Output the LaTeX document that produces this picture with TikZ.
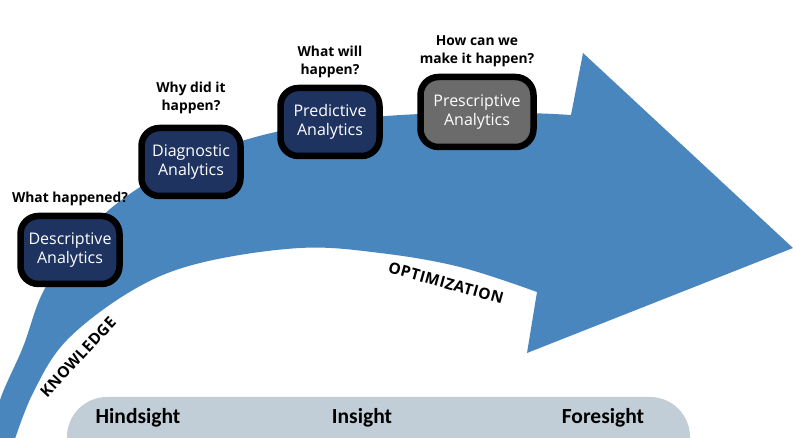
\documentclass[tikz,border=0pt]{standalone}
\usepackage{fontspec}
\setmainfont{Open Sans}
\newfontfamily\phasefont{Carlito}
\usetikzlibrary{positioning}
\definecolor{arrowblue}{HTML}{4A86BE}
\definecolor{navybox}{HTML}{1F3361}
\definecolor{graybox}{HTML}{6B6B6B}
\definecolor{barblue}{HTML}{C1CED7}

\begin{document}
\begin{tikzpicture}
		[x=1pt,y=-1pt,
		stage/.style={draw=black,line width=6.5pt,rounded corners=18pt,fill=navybox,text=white,align=center,minimum width=99pt,minimum height=68pt,inner sep=2pt,font=\fontsize{16}{18.5}\selectfont},
		question/.style={align=center,inner sep=0pt,font=\bfseries\fontsize{13.8}{18}\selectfont},
		phase/.style={font=\phasefont\bfseries\fontsize{21.5}{24}\selectfont},
		axislabel/.style={font=\bfseries\fontsize{15.5}{17}\selectfont\addfontfeature{LetterSpace=3}}]

			\useasboundingbox (0,0) rectangle (793,438);

			\fill[arrowblue] plot[smooth,tension=0.6] coordinates {(-10,445) (0,400) (23,347) (43,292) (75,245) (115,205) (170,170) (245,140) (330,122) (420,114) (520,113) (571,115)}
				-- (583,53) -- (793,248) -- (527,353)
				-- plot[smooth,tension=0.6] coordinates {(537,292) (460,267) (380,253) (300,248) (200,263) (133,290) (67,340) (33,393) (13,445)} -- cycle;

			\fill[barblue,rounded corners=40pt] (67,397) rectangle (690,480);
			\node[phase](hind) at (138,418) {Hindsight};
			\node[phase](ins) at (362,418) {Insight};
			\node[phase](fore) at (603,418) {Foresight};

			\node[stage](desc) at (70,250) {Descriptive\\Analytics};
			\node[stage](diag) at (191,162) {Diagnostic\\Analytics};
			\node[stage](pred) at (330,122) {Predictive\\Analytics};
			\node[stage,fill=graybox,minimum width=113pt,minimum height=70pt](presc) at (477,112) {Prescriptive\\Analytics};

			\node[question, above=7pt of desc](qdesc) {What happened?};
			\node[question, above=11pt of diag](qdiag) {Why did it\\happen?};
			\node[question, above=7pt of pred](qpred) {What will\\happen?};
			\node[question, above=7pt of presc](qpresc) {How can we\\make it happen?};

			\node[axislabel, rotate=47](know) at (78,357) {KNOWLEDGE};
			\node[axislabel, rotate=-15.6](optim) at (446,283) {OPTIMIZATION};

	\end{tikzpicture}
\end{document}
